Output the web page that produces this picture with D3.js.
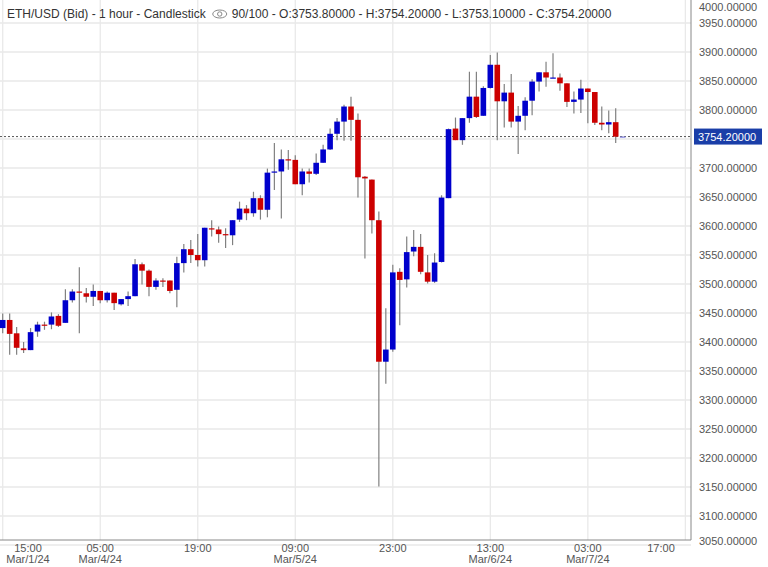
<!DOCTYPE html>
<html><head><meta charset="utf-8">
<script src="https://cdn.jsdelivr.net/npm/d3@7"></script>
<style>body{margin:0;background:#fff;}svg{display:block;font-family:"Liberation Sans",Arial,sans-serif;}</style>
</head><body><svg id="c" width="768" height="567"></svg>
<script>
const opens  = [3424,3438,3415,3389,3386,3418,3430,3430,3445,3433,3472,3487,3484,3478,3488,3472,3485,3465,3474,3479,3534,3523,3495,3506,3506,3490,3536,3560,3550,3541,3596,3594,3586,3584,3611,3630,3622,3648,3628,3692,3694,3715,3714,3672,3694,3690,3709,3732,3759,3780,3806,3783,3685,3680,3610,3366,3387,3521,3508,3556,3564,3520,3504,3538,3648,3768,3748,3786,3823,3790,3838,3878,3815,3830,3780,3790,3816,3849,3865,3855,3856,3846,3814,3818,3837,3831,3778,3775,3779,3753.8];
const highs  = [3449,3449,3426,3400,3424,3435,3435,3451,3448,3491,3491,3529,3493,3499,3488,3487,3485,3474,3487,3543,3537,3525,3510,3510,3506,3547,3569,3576,3586,3597,3610,3599,3596,3610,3642,3636,3659,3653,3699,3743,3732,3731,3722,3699,3699,3725,3740,3768,3786,3809,3823,3794,3686,3680,3625,3458,3533,3527,3582,3593,3586,3550,3553,3653,3768,3787,3786,3866,3866,3841,3895,3899,3845,3862,3807,3822,3853,3865,3883,3898,3863,3846,3832,3852,3837,3831,3806,3799,3803,3754.2];
const lows   = [3415,3378,3378,3381,3386,3409,3421,3422,3426,3433,3468,3415,3468,3462,3467,3468,3455,3463,3462,3479,3499,3479,3490,3495,3484,3460,3520,3536,3530,3530,3582,3571,3562,3567,3607,3610,3616,3611,3615,3662,3613,3697,3672,3653,3675,3688,3709,3731,3748,3747,3747,3649,3544,3587,3151,3328,3383,3429,3494,3548,3517,3501,3502,3537,3648,3748,3740,3778,3786,3790,3837,3748,3770,3770,3724,3765,3791,3832,3840,3855,3833,3805,3794,3795,3777,3774,3765,3760,3743,3753.1];
const closes = [3438,3414,3390,3386,3417,3430,3429,3444,3428,3472,3487,3485,3478,3488,3472,3485,3467,3474,3479,3534,3523,3495,3506,3504,3488,3536,3560,3550,3541,3597,3594,3586,3585,3610,3630,3622,3648,3628,3692,3694,3715,3713,3672,3694,3690,3709,3732,3759,3780,3806,3783,3684,3682,3610,3366,3387,3520,3507,3555,3564,3521,3504,3537,3649,3767,3748,3786,3823,3788,3838,3878,3815,3830,3780,3790,3816,3849,3865,3856,3856,3846,3814,3818,3837,3831,3778,3775,3779,3754,3754.2];
const tickIndex = [0,14,28,42,56,70,84,98];
const tickTimes = ["15:00","05:00","19:00","09:00","23:00","13:00","03:00","17:00"];
const tickDates = ["Mar/1/24","Mar/4/24","","Mar/5/24","","Mar/6/24","Mar/7/24",""];
const yTicks = d3.range(3050, 4001, 50);
const lastPrice = 3754.2;

const svg = d3.select("#c");
const R = 691, B = 540;
const x = d3.scaleLinear().domain([0, 88]).range([2.7, 615.7]);
const y = d3.scaleLinear().domain([3100, 3700]).range([516, 168]);

svg.append("g").selectAll("line").data(yTicks).join("line")
  .attr("x1",0).attr("x2",R).attr("y1",d=>y(d)).attr("y2",d=>y(d))
  .attr("stroke","#e9e9e9").attr("stroke-width",1.3);
svg.append("g").selectAll("line").data(tickIndex).join("line")
  .attr("x1",d=>x(d)).attr("x2",d=>x(d)).attr("y1",0).attr("y2",B)
  .attr("stroke","#e9e9e9").attr("stroke-width",1.3);

svg.append("line").attr("x1",0).attr("x2",R).attr("y1",y(lastPrice)).attr("y2",y(lastPrice))
  .attr("stroke","#555").attr("stroke-dasharray","2,2");

const idx = d3.range(opens.length);
const g = svg.append("g");
g.selectAll("line.w").data(idx).join("line")
  .attr("x1",i=>x(i)).attr("x2",i=>x(i)).attr("y1",i=>y(highs[i])).attr("y2",i=>y(lows[i]))
  .attr("stroke","#808080").attr("stroke-width",1.2);
g.selectAll("rect").data(idx).join("rect")
  .attr("x",i=>x(i)-2.8).attr("width",5.6)
  .attr("y",i=>y(Math.max(opens[i],closes[i])))
  .attr("height",i=>Math.max(1.2, Math.abs(y(opens[i])-y(closes[i]))))
  .attr("fill",i=> i===opens.length-1 ? "#8a8ae8" : (closes[i]>=opens[i] ? "#0000cc" : "#cc0000"));

svg.append("line").attr("x1",R).attr("x2",R).attr("y1",0).attr("y2",B).attr("stroke","#888");
svg.append("line").attr("x1",0).attr("x2",R).attr("y1",B).attr("y2",B).attr("stroke","#888");

svg.append("g").selectAll("text").data(yTicks.filter(d=>Math.abs(y(d)-y(lastPrice))>10)).join("text")
  .attr("x",699).attr("y",d=>Math.min(541, Math.max(7, y(d)))+4)
  .attr("font-size",11).attr("fill","#555").text(d=>d.toFixed(5));

svg.append("rect").attr("x",694).attr("y",y(lastPrice)-8).attr("width",68).attr("height",16).attr("fill","#1a3ea8");
svg.append("text").attr("x",698).attr("y",y(lastPrice)+4).attr("font-size",11).attr("fill","#fff").text(lastPrice.toFixed(5));

const xl = svg.append("g");
tickIndex.forEach((t,k)=>{
  let cx = Math.min(661, Math.max(28, x(t)));
  xl.append("text").attr("x",cx).attr("y",552).attr("text-anchor","middle").attr("font-size",11).attr("fill","#555").text(tickTimes[k]);
  if (tickDates[k]) xl.append("text").attr("x",cx).attr("y",563).attr("text-anchor","middle").attr("font-size",11).attr("fill","#555").text(tickDates[k]);
});

const t1 = svg.append("text").attr("x",7).attr("y",18).attr("font-size",12).attr("fill","#333");
t1.text("ETH/USD (Bid) - 1 hour - Candlestick");
const tw = t1.node().getComputedTextLength();
const ex = 7 + tw + 14;
svg.append("ellipse").attr("cx",ex).attr("cy",14).attr("rx",7).attr("ry",4).attr("fill","none").attr("stroke","#888");
svg.append("circle").attr("cx",ex).attr("cy",14).attr("r",2.2).attr("fill","none").attr("stroke","#888");
svg.append("text").attr("x",ex+12).attr("y",18).attr("font-size",12).attr("fill","#333")
  .text("90/100 - O:" + opens[89].toFixed(5) + " - H:" + highs[89].toFixed(5) + " - L:" + lows[89].toFixed(5) + " - C:" + closes[89].toFixed(5));
</script></body></html>
